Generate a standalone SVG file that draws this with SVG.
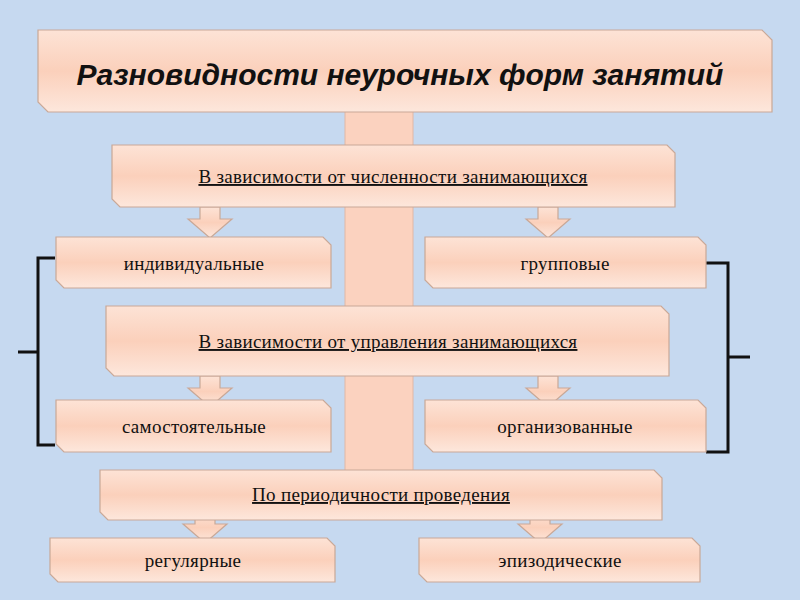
<svg xmlns="http://www.w3.org/2000/svg" width="800" height="600" viewBox="0 0 800 600">
<defs>
<linearGradient id="g" x1="0" y1="0" x2="0" y2="1">
<stop offset="0" stop-color="#fde3d6"/><stop offset="0.5" stop-color="#fbd0bb"/><stop offset="1" stop-color="#fde7dc"/>
</linearGradient>
<style>
.b{fill:url(#g);stroke:#c9a897;stroke-width:1.2}
.t{font-family:"Liberation Serif",serif;font-size:19px;letter-spacing:0.3px;fill:#111;text-anchor:middle}
.u{text-decoration:underline}
.br{fill:none;stroke:#111;stroke-width:3}
</style>
</defs>
<rect width="800" height="600" fill="#c6d9f0"/>
<rect x="345" y="110" width="68" height="362" fill="#fbd2bf" stroke="#e0b8a5"/>
<g id="connectors">
<path class="b" d="M200 207h20v12h12l-22 19l-22-19h12z"/>
<path class="b" d="M538 207h20v12h12l-22 19l-22-19h12z"/>
<path class="b" d="M200 376h20v12h12l-22 19l-22-19h12z"/>
<path class="b" d="M538 376h20v12h12l-22 19l-22-19h12z"/>
<path class="b" d="M195 512h20v12h12l-22 19l-22-19h12z"/>
<path class="b" d="M530 512h20v12h12l-22 19l-22-19h12z"/>
<path class="br" d="M55 258H38V445H55M38 352H18"/>
<path class="br" d="M706 263H728V452H706M728 357H750"/>
</g>
<g id="title"><path class="b" d="M38 30H762L772 40V112H48L38 102Z"/>
<text x="400" y="85" style="font-family:'Liberation Sans',sans-serif;font-size:30px;font-weight:bold;font-style:italic;fill:#111;text-anchor:middle">Разновидности  неурочных форм занятий</text></g>
<g id="n1"><path class="b" d="M112 145H667L675 153V207H120L112 199Z"/><text class="t u" x="393" y="183">В зависимости от численности занимающихся</text></g>
<g id="n2"><path class="b" d="M56 237H323L331 245V288H64L56 280Z"/><text class="t" x="194" y="270">индивидуальные</text></g>
<g id="n3"><path class="b" d="M425 237H698L706 245V288H433L425 280Z"/><text class="t" x="565" y="270">групповые</text></g>
<g id="n4"><path class="b" d="M106 306H661L669 314V376H114L106 368Z"/><text class="t u" x="388" y="348">В зависимости от управления занимающихся</text></g>
<g id="n5"><path class="b" d="M56 400H323L331 408V452H64L56 444Z"/><text class="t" x="194" y="433">самостоятельные</text></g>
<g id="n6"><path class="b" d="M425 400H698L706 408V452H433L425 444Z"/><text class="t" x="565" y="433">организованные</text></g>
<g id="n7"><path class="b" d="M100 470H654L662 478V520H108L100 512Z"/><text class="t u" x="381" y="501">По периодичности проведения</text></g>
<g id="n8"><path class="b" d="M50 538H327L335 546V582H58L50 574Z"/><text class="t" x="193" y="567">регулярные</text></g>
<g id="n9"><path class="b" d="M419 538H692L700 546V582H427L419 574Z"/><text class="t" x="560" y="567">эпизодические</text></g>
</svg>
